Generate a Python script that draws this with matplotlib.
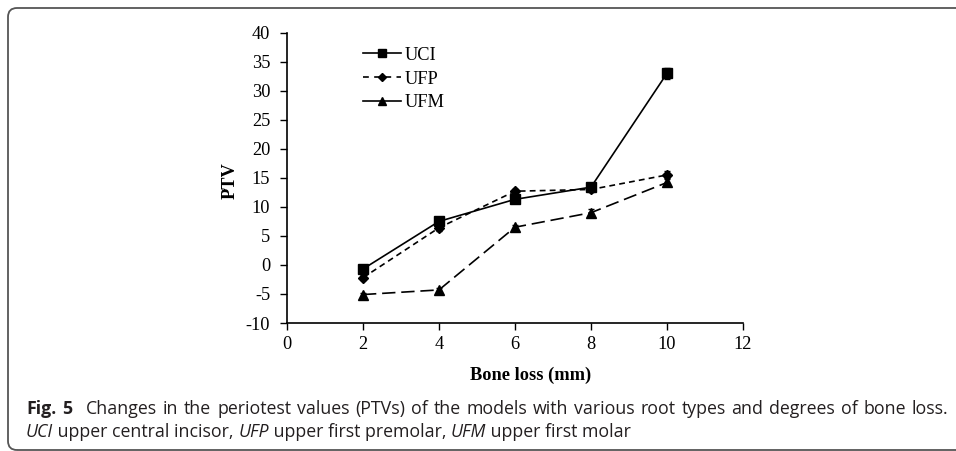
import matplotlib
matplotlib.use('Agg')
import matplotlib.pyplot as plt
from matplotlib.patches import FancyBboxPatch
from matplotlib.lines import Line2D

plt.rcParams['axes.unicode_minus'] = False

bone_loss = [2, 4, 6, 8, 10]

uci = [-0.7, 7.5, 11.3, 13.4, 33.0]
uci_err = [0.4, 0.5, 0.5, 0.5, 1.0]
ufp = [-2.2, 6.4, 12.7, 13.0, 15.5]
ufp_err = [0.4, 0.5, 0.4, 0.4, 0.6]
ufm = [-5.1, -4.3, 6.5, 9.0, 14.2]
ufm_err = [0.3, 0.3, 0.4, 0.6, 0.6]

series_names = ['UCI', 'UFP', 'UFM']

caption_1 = 'Changes in the periotest values (PTVs) of the models with various root types and degrees of bone loss.'
caption_2 = [('UCI', True), (' upper central incisor, ', False), ('UFP', True),
             (' upper first premolar, ', False), ('UFM', True), (' upper first molar', False)]

serif = ['Liberation Serif', 'DejaVu Serif']
sans = ['Open Sans', 'DejaVu Sans']
FS = 13.2
CAP_FS = 12.8

fig = plt.figure(figsize=(9.56, 4.51), dpi=100)
ax = fig.add_axes([0.3002, 0.2838, 0.477, 0.6437])

dash_ufp = (0, (3.5, 2.5))
dash_ufm = (0, (8, 3.5))
common = dict(color='black', linewidth=1.2, capsize=2.5, elinewidth=1.0, capthick=1.0)
ax.errorbar(bone_loss, uci, yerr=uci_err, marker='s', markersize=7.5,
            linestyle='-', **common)
ax.errorbar(bone_loss, ufp, yerr=ufp_err, marker='D', markersize=5.5,
            linestyle=dash_ufp, **common)
ax.errorbar(bone_loss, ufm, yerr=ufm_err, marker='^', markersize=7.5,
            linestyle=dash_ufm, **common)

ax.set_xlim(0, 12)
ax.set_ylim(-10, 40)
ax.set_xticks(range(0, 13, 2))
ax.set_yticks(range(-10, 41, 5))
for s in ['top', 'right']:
    ax.spines[s].set_visible(False)
for s in ['left', 'bottom']:
    ax.spines[s].set_linewidth(1.2)
ax.tick_params(direction='out', length=5, width=1.0, labelsize=FS)
ax.tick_params(axis='x', pad=4)
ax.tick_params(axis='y', pad=7)
for lab in ax.get_xticklabels() + ax.get_yticklabels():
    lab.set_family(serif)

ax.set_xlabel('Bone loss (mm)', family=serif, fontweight='bold', fontsize=FS)
ax.xaxis.set_label_coords(0.535, -0.152)
ax.set_ylabel('PTV', family=serif, fontweight='bold', fontsize=FS)
ax.yaxis.set_label_coords(-0.105, 0.49)

# legend handles: short, so the long dashes look continuous like the original
handles = [
    Line2D([], [], color='black', linewidth=1.2, linestyle='-', marker='s', markersize=6),
    Line2D([], [], color='black', linewidth=1.2, linestyle=(0, (3.5, 3.2)), marker='D', markersize=4.5),
    Line2D([], [], color='black', linewidth=1.2, linestyle='-', marker='^', markersize=6),
]
ax.legend(handles, series_names, loc='upper left', bbox_to_anchor=(0.3797, 0.896),
          bbox_transform=fig.transFigure, frameon=False, borderpad=0, borderaxespad=0,
          handlelength=2.05, handletextpad=0.22, labelspacing=0.36,
          prop={'family': serif, 'size': FS})

# caption, first line justified between x=26 and x=948 px
fig.canvas.draw()
renderer = fig.canvas.get_renderer()
W = fig.bbox.width
H = fig.bbox.height
y1 = (H - 414) / H
y2 = (H - 437) / H

bold_words = ['Fig.', '5']
words = caption_1.split(' ')
items = [(w, 'bold') for w in bold_words] + [(w, 'normal') for w in words]
texts = []
total = 0
for w, weight in items:
    t = fig.text(0, y1, w, family=sans, fontweight=weight, fontsize=CAP_FS,
                 va='baseline', color='#231f20')
    texts.append(t)
    total += t.get_window_extent(renderer).width
extra = 8
gap = (948 - 26 - total - extra) / (len(items) - 1)
x = 26
for i, t in enumerate(texts):
    t.set_x(x / W)
    x += t.get_window_extent(renderer).width + gap
    if i == 1:
        x += extra

x = 26
for txt, ital in caption_2:
    t = fig.text(x / W, y2, txt, family=sans, fontsize=CAP_FS, va='baseline',
                 color='#231f20', style='italic' if ital else 'normal')
    x += t.get_window_extent(renderer).width

# rounded frame around figure
frame = FancyBboxPatch((8, 1), 980, 442, boxstyle='round,pad=0,rounding_size=9',
                       transform=None, fill=False, edgecolor='#555555', linewidth=1.3)
fig.add_artist(frame)

fig.savefig('out.png', dpi=100)
